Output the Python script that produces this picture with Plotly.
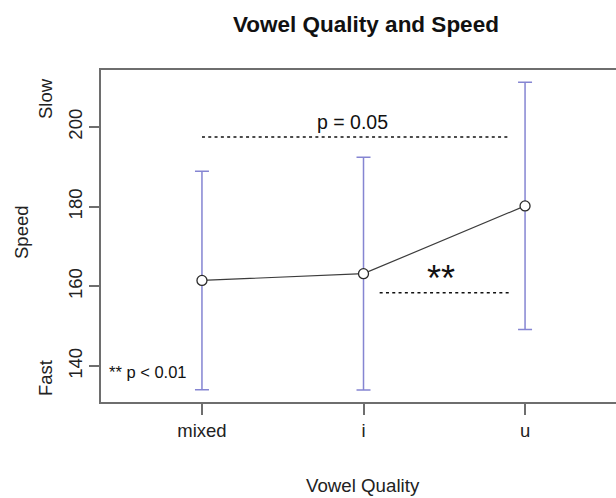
import plotly.graph_objects as go

# ---- data ----
categories = ["mixed", "i", "u"]
speed_mean = [161.5, 163.2, 180.2]
speed_err = [27.4, 29.2, 31.0]
y_ticks = [140, 160, 180, 200]

# significance brackets
sig_p05 = {"x0": 1.0, "x1": 2.9, "y": 197.5, "label": "p = 0.05", "lx": 1.93, "ly": 201.3}
sig_p01 = {"x0": 2.1, "x1": 2.9, "y": 158.4, "label": "**", "lx": 2.48, "ly": 162.0}
note_text = "** p < 0.01"

xpos = list(range(1, len(categories) + 1))

FONT = "Liberation Sans, Arial, sans-serif"
W, H = 616, 498
L, R, T, B = 101, 0, 70, 96
PW, PH = W - L - R, H - T - B


def px(x):
    return (x - L) / PW


def py(y):
    return (H - B - y) / PH


fig = go.Figure()

# error bars (drawn separately so they sit behind the line)
fig.add_trace(go.Scatter(
    x=xpos, y=speed_mean, mode="markers",
    marker=dict(size=1, color="rgba(0,0,0,0)"),
    error_y=dict(type="data", array=speed_err, color="#8585d2", thickness=1.5, width=7),
    hoverinfo="skip", showlegend=False,
))

# mean line with open circles
fig.add_trace(go.Scatter(
    x=xpos, y=speed_mean, mode="lines+markers",
    line=dict(color="#3c3c3c", width=1.2),
    marker=dict(symbol="circle", size=10, color="white",
                line=dict(color="#2a2a2a", width=1.3)),
    showlegend=False,
))

# significance dotted lines
for s in (sig_p05, sig_p01):
    fig.add_trace(go.Scatter(
        x=[s["x0"], s["x1"]], y=[s["y"], s["y"]], mode="lines",
        line=dict(color="#111111", width=1.6, dash="3px,3.3px"),
        hoverinfo="skip", showlegend=False,
    ))

annotations = [
    dict(text="<b>Vowel Quality and Speed</b>", x=px(366), y=py(24), xref="paper", yref="paper",
         showarrow=False, xanchor="center", yanchor="middle", font=dict(size=22.5, color="#111", family=FONT)),
    dict(text="Vowel Quality", x=px(363), y=py(485), xref="paper", yref="paper",
         showarrow=False, xanchor="center", yanchor="middle", font=dict(size=18.7, color="#222", family=FONT)),
    dict(text="Speed", x=px(21), y=py(232), xref="paper", yref="paper", textangle=-90,
         showarrow=False, xanchor="center", yanchor="middle", font=dict(size=18.5, color="#222", family=FONT)),
    dict(text="Slow", x=px(45), y=py(99), xref="paper", yref="paper", textangle=-90,
         showarrow=False, xanchor="center", yanchor="middle", font=dict(size=18.5, color="#222", family=FONT)),
    dict(text="Fast", x=px(45), y=py(378), xref="paper", yref="paper", textangle=-90,
         showarrow=False, xanchor="center", yanchor="middle", font=dict(size=18.5, color="#222", family=FONT)),
    dict(text=sig_p05["label"], x=sig_p05["lx"], y=sig_p05["ly"], xref="x", yref="y",
         showarrow=False, xanchor="center", yanchor="middle", font=dict(size=19.5, color="#111", family=FONT)),
    dict(text=sig_p01["label"], x=sig_p01["lx"], y=sig_p01["ly"], xref="x", yref="y",
         showarrow=False, xanchor="center", yanchor="middle", font=dict(size=36, color="#111", family=FONT)),
    dict(text=note_text, x=px(107), y=py(372), xref="paper", yref="paper",
         showarrow=False, xanchor="left", yanchor="middle", font=dict(size=16.5, color="#111", family=FONT)),
]

fig.update_layout(
    width=W, height=H,
    margin=dict(l=L, r=R, t=T, b=B, pad=0),
    paper_bgcolor="white", plot_bgcolor="white",
    font=dict(family=FONT, size=18.5, color="#222"),
    annotations=annotations,
    showlegend=False,
)

fig.update_xaxes(
    range=[0.375, 3.563], tickvals=xpos, ticktext=categories,
    showgrid=False, zeroline=False,
    showline=True, linecolor="#6e6e6e", linewidth=1.5, mirror=True,
    ticks="outside", ticklen=11, tickcolor="#6e6e6e", tickwidth=1.5,
    tickfont=dict(size=18.5, color="#222", family=FONT),
)
fig.update_yaxes(
    range=[131, 214.3], tickvals=y_ticks, tickangle=-90,
    showgrid=False, zeroline=False,
    showline=True, linecolor="#6e6e6e", linewidth=1.5, mirror=False,
    ticks="outside", ticklen=10, tickcolor="#6e6e6e", tickwidth=1.5,
    tickfont=dict(size=18.5, color="#222", family=FONT),
)

fig.write_html(
    "out.html",
    config={"displayModeBar": False},
    post_script="document.body.style.margin='0';document.body.style.overflow='hidden';",
)
